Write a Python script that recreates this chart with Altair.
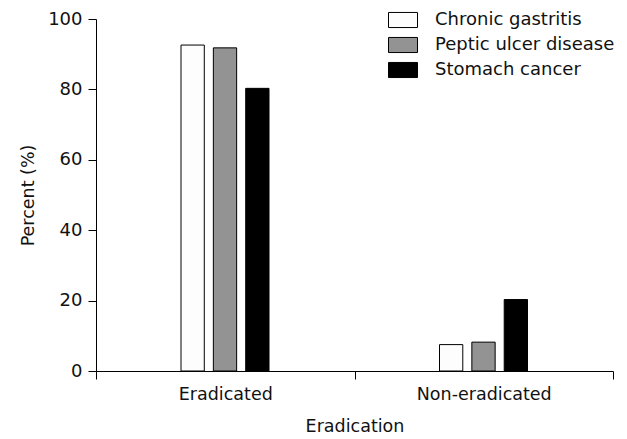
import altair as alt
import pandas as pd

groups = ["Eradicated", "Non-eradicated"]
diseases = ["Chronic gastritis", "Peptic ulcer disease", "Stomach cancer"]
values = {
    "Eradicated": [92.6, 91.8, 80.3],
    "Non-eradicated": [7.5, 8.2, 20.3],
}
colors = ["#fdfdfd", "#939393", "#000000"]

rows = []
for g in groups:
    for d, v in zip(diseases, values[g]):
        rows.append({"Eradication": g, "Disease": d, "Percent": v})
df = pd.DataFrame(rows)

FONT = "DejaVu Sans"
rect_path = "M-1,-0.52L1,-0.52L1,0.52L-1,0.52Z"

chart = alt.Chart(df).mark_bar(stroke="#000000", strokeWidth=1).encode(
    x=alt.X("Eradication:N", sort=groups, title="Eradication",
            scale=alt.Scale(paddingInner=0, paddingOuter=0),
            axis=alt.Axis(labelAngle=0, tickBand="extent", tickSize=8,
                          labelPadding=6, titlePadding=15, labelFontSize=17.5,
                          titleFontSize=17.5)),
    xOffset=alt.XOffset("Disease:N", sort=diseases,
                        scale=alt.Scale(paddingInner=0.28, paddingOuter=0, range=[85, 173])),
    y=alt.Y("Percent:Q", title="Percent (%)",
            scale=alt.Scale(domain=[0, 100]),
            axis=alt.Axis(values=[0, 20, 40, 60, 80, 100], tickSize=8,
                          labelPadding=6, titlePadding=10, grid=False,
                          labelFontSize=18, titleFontSize=17.5)),
    fill=alt.Fill("Disease:N", sort=diseases,
                  scale=alt.Scale(domain=diseases, range=colors),
                  legend=alt.Legend(title=None, orient="none", legendX=292, legendY=-14,
                                    symbolType=rect_path, symbolSize=841,
                                    symbolStrokeColor="#000000", symbolStrokeWidth=1,
                                    labelFontSize=18, labelFont=FONT, labelColor="#111111",
                                    rowPadding=-6, labelOffset=17, padding=0,
                                    labelLimit=400)),
).properties(
    width=517, height=352,
    autosize=alt.AutoSizeParams(type="none"),
    padding={"left": 88, "top": 11, "right": 6, "bottom": 68},
).configure_view(stroke=None).configure_axis(
    domainColor="#000000", tickColor="#000000", labelColor="#111111", titleColor="#111111",
    labelFont=FONT, titleFont=FONT,
    titleFontWeight="normal", domainWidth=1, tickWidth=1,
)

chart.save("out.html", embed_options={"renderer": "svg", "actions": False})
